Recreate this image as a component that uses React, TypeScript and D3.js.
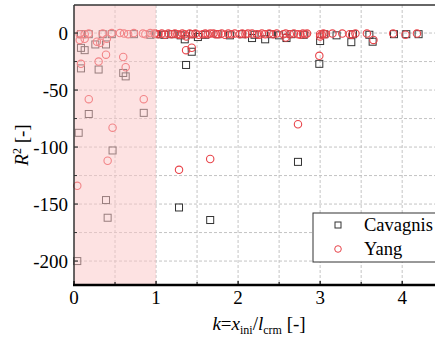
import React from 'react';
import * as d3 from 'd3';

// k = x_ini / l_crm  and  R^2 values
const cavagnisK = [
  0.085, 0.18, 0.35, 0.46, 0.73, 0.93, 1.0, 1.1, 1.2, 1.3, 1.45, 1.6, 1.75, 1.9, 2.05, 2.2, 2.4, 2.5, 2.65, 2.8,
  3.05, 3.2, 3.4, 3.6, 3.9, 4.05, 4.2,
  0.085, 0.13, 0.26, 0.39, 0.085, 0.3, 0.6, 0.63, 0.18, 0.85, 0.057, 0.47, 0.39, 0.41, 0.04,
  1.35, 1.51, 2.17, 2.33, 2.59, 1.435, 1.366, 3.0, 2.99, 3.38, 3.64, 2.73, 1.28, 1.66,
];
const cavagnisR2 = [
  -1, -1, -1, -1, -1, -1.5, -1, -1.5, -1, -2, -1, -1.5, -1, -2, -1, -1.5, -1, -2, -1, -1.5,
  -1, -2, -1, -1.5, -1, -1, -1,
  -13, -15, -10, -10, -31, -32, -35, -38, -71, -70, -87.5, -103, -146.5, -162, -200,
  -5.5, -3.5, -4.4, -5.5, -4.4, -16.4, -28, -7, -27, -8, -7.6, -113, -153, -164,
];

const yangK = [
  0.07, 0.13, 0.18, 0.35, 0.46, 0.56, 0.61, 0.66, 0.73, 0.84, 0.87, 0.93, 0.98,
  0.07, 0.13, 0.28, 0.32, 0.4, 0.085, 0.3, 0.39, 0.6, 0.63, 0.18, 0.85, 0.47, 0.41, 0.04,
  0.99, 1.03, 1.07, 1.11, 1.15, 1.19, 1.23, 1.26, 1.29, 1.32, 1.35, 1.41, 1.44, 1.48, 1.52, 1.57, 1.6, 1.63, 1.66,
  1.7, 1.73, 1.76, 1.8, 1.84, 1.88, 1.92, 1.96, 2.02, 2.05, 2.09, 2.12, 2.17, 2.23, 2.26, 2.29, 2.33, 2.38, 2.43,
  2.47, 2.55, 2.58, 2.63, 2.68, 2.73, 2.76, 2.79, 2.82, 2.84, 3.0, 3.02, 3.04, 3.07, 3.15, 3.27, 3.36, 3.39, 3.43,
  3.57, 3.89, 4.04, 4.18,
  1.366, 1.435, 2.99, 3.65, 2.73, 1.66, 1.28, 1.37, 2.58, 3.0,
];
const yangR2 = [
  -1, -1, -0.5, -0.5, 0, 0, -0.5, -1, 0, -0.5, -1, 0, -0.5,
  -6, -5, -7.6, -8.5, -5, -27, -25, -19, -21, -30, -58, -58, -83, -112, -134,
  -0.5, -1, -0.5, -1.5, -0.5, -1, -0.5, -1, -1.5, -0.5, -1, -0.5, -1, -0.5, -1.5, -1, -0.5, -1, -0.5,
  -0.5, -1, -1, -0.5, -1.5, -0.5, -1, -0.5, -1, -0.5, -1, -0.5, -0.5, -1, -1.5, -0.5, -1, -0.5, -1,
  -0.5, -1, -0.5, -1, -0.5, -1, -1.5, -0.5, -1, -0.5, -1, -1.5, -0.5, -1, -0.5, -0.5, -1, -1.5, -0.5,
  -0.5, -0.5, -1.5, -0.5,
  -15, -12.9, -20, -6, -80, -110.5, -120, -3, -4, -3,
];

const xTicks = [0, 1, 2, 3, 4];
const xMinor = [0.5, 1.5, 2.5, 3.5];
const yTicks = [0, -50, -100, -150, -200];
const yMinor = [25, -25, -75, -125, -175];
const shadedRange = [0, 1];
const legendItems = ['Cavagnis', 'Yang'];

const W = 435;
const H = 339;
const margin = { top: 5, right: 0, bottom: 54, left: 74 };
const tf = { fontFamily: 'Liberation Serif' };
const squareColor = '#333333';
const circleColor = '#e8444a';

export default function App() {
  const x = d3.scaleLinear().domain([0, 4.4]).range([margin.left, W - margin.right]);
  const y = d3.scaleLinear().domain([-221, 24.6]).range([H - margin.bottom, margin.top]);
  const [x0, x1] = x.range();
  const [yb, yt] = y.range();
  const sq = 7;

  const cav = cavagnisK.map((k, i) => ({ k, r: cavagnisR2[i] }));
  const yang = yangK.map((k, i) => ({ k, r: yangR2[i] }));

  const gridX = [...xTicks, ...xMinor].filter((v) => v > 0);
  const gridY = [...yTicks, ...yMinor].filter((v) => v < 24);

  return (
    <svg width={W} height={H} style={{ position: 'absolute', left: 0, top: 0 }}>
      <rect x={0} y={0} width={W} height={H} fill="#fff" />
      {/* grid */}
      {gridX.map((v) => (
        <line key={'gx' + v} x1={x(v)} x2={x(v)} y1={yt} y2={yb} stroke="#c4c4c4" strokeDasharray="3,2" />
      ))}
      {gridY.map((v) => (
        <line key={'gy' + v} x1={x0} x2={x1} y1={y(v)} y2={y(v)} stroke="#c4c4c4" strokeDasharray="3,2" />
      ))}
      {/* markers */}
      {cav.map((d, i) => (
        <rect key={'c' + i} x={x(d.k) - sq / 2} y={y(d.r) - sq / 2} width={sq} height={sq}
          fill="none" stroke={squareColor} strokeWidth={1} />
      ))}
      {yang.map((d, i) => (
        <circle key={'y' + i} cx={x(d.k)} cy={y(d.r)} r={3.7} fill="none" stroke={circleColor} strokeWidth={1.1} />
      ))}
      {/* shaded region */}
      <rect x={x(shadedRange[0])} y={yt} width={x(shadedRange[1]) - x(shadedRange[0])} height={yb - yt}
        fill="#fbc6c6" opacity={0.5} />
      {/* frame */}
      <line x1={x0} x2={x1} y1={yt} y2={yt} stroke="#333" strokeWidth={1.5} />
      <line x1={x0} x2={x0} y1={yt} y2={yb} stroke="#333" strokeWidth={1.5} />
      <line x1={x0 - 1} x2={x1} y1={yb} y2={yb} stroke="#000" strokeWidth={2.5} />
      {/* y ticks */}
      {yTicks.map((v) => (
        <g key={'yt' + v}>
          <line x1={x0} x2={x0 + 4} y1={y(v)} y2={y(v)} stroke="#333" strokeWidth={1.2} />
          <text x={x0 - 6} y={y(v)} dy="0.35em" textAnchor="end" fontSize={19} style={tf}>{v}</text>
        </g>
      ))}
      {yMinor.filter((v) => v < 24).map((v) => (
        <line key={'ym' + v} x1={x0} x2={x0 + 3} y1={y(v)} y2={y(v)} stroke="#333" strokeWidth={1} />
      ))}
      {/* x ticks */}
      {xTicks.map((v) => (
        <g key={'xt' + v}>
          <line x1={x(v)} x2={x(v)} y1={yb} y2={yb - 4} stroke="#000" strokeWidth={1.2} />
          <text x={x(v)} y={yb + 19} textAnchor="middle" fontSize={19} style={tf}>{v}</text>
        </g>
      ))}
      {xMinor.map((v) => (
        <line key={'xm' + v} x1={x(v)} x2={x(v)} y1={yb} y2={yb - 3} stroke="#000" strokeWidth={1} />
      ))}
      {/* axis titles */}
      <text transform={`translate(28, ${(yt + yb) / 2}) rotate(-90)`} textAnchor="middle" fontSize={19} style={tf}>
        <tspan fontStyle="italic">R</tspan>
        <tspan fontSize={12} dy={-7}>2</tspan>
        <tspan dy={7}> [-]</tspan>
      </text>
      <text x={259} y={330} textAnchor="middle" fontSize={19} style={tf}>
        <tspan fontStyle="italic">k</tspan>
        <tspan>=</tspan>
        <tspan fontStyle="italic">x</tspan>
        <tspan fontSize={12} dy={4}>ini</tspan>
        <tspan dy={-4}>/</tspan>
        <tspan fontStyle="italic">l</tspan>
        <tspan fontSize={12} dy={4}>crm</tspan>
        <tspan dy={-4}> [-]</tspan>
      </text>
      {/* legend */}
      <rect x={313} y={213} width={130} height={49} fill="#fff" stroke="#333" strokeWidth={1} />
      {legendItems.map((name, i) => {
        const ly = 225 + i * 24;
        return (
          <g key={name}>
            {i === 0 ? (
              <rect x={338 - 3} y={ly - 3} width={6} height={6} fill="none" stroke={squareColor} />
            ) : (
              <circle cx={338} cy={ly} r={3.3} fill="none" stroke={circleColor} />
            )}
            <text x={364} y={ly} dy="0.35em" fontSize={18.5} style={tf}>{name}</text>
          </g>
        );
      })}
    </svg>
  );
}
